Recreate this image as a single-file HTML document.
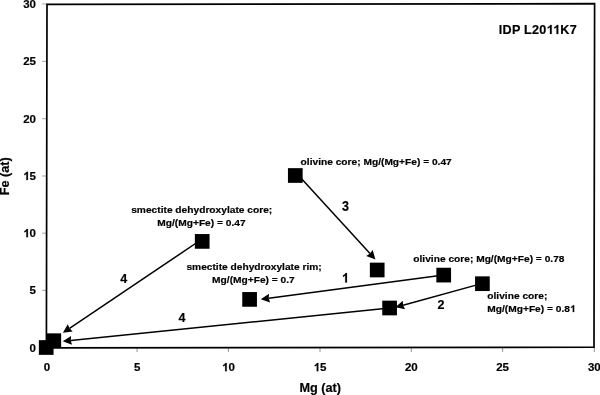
<!DOCTYPE html>
<html><head><meta charset="utf-8"><style>
html,body{margin:0;padding:0;background:#fff;width:600px;height:395px;overflow:hidden}
svg{display:block;filter:blur(0.3px)}
text{font-family:"Liberation Sans", sans-serif;font-weight:bold;fill:#000;stroke:#000;stroke-width:0.2px}
.h{fill:none;stroke:none}
.o{stroke:#000;stroke-width:0.2px;vector-effect:non-scaling-stroke}
.t{font-size:11.5px}
.ax{font-size:12.7px}
.id{font-size:12.6px;letter-spacing:0.25px}
.a{font-size:10.2px}
.n{font-size:12.5px}
</style></head><body>
<svg width="600" height="395" viewBox="0 0 600 395">
<line x1="42.1" y1="347.80" x2="46.9" y2="347.80" stroke="#999" stroke-width="0.9"/>
<line x1="46.90" y1="347.3" x2="46.90" y2="352.0" stroke="#888" stroke-width="0.9"/>
<line x1="42.1" y1="290.40" x2="46.9" y2="290.40" stroke="#999" stroke-width="0.9"/>
<line x1="137.10" y1="347.3" x2="137.10" y2="352.0" stroke="#888" stroke-width="0.9"/>
<line x1="42.1" y1="233.20" x2="46.9" y2="233.20" stroke="#999" stroke-width="0.9"/>
<line x1="228.40" y1="347.3" x2="228.40" y2="352.0" stroke="#888" stroke-width="0.9"/>
<line x1="42.1" y1="176.00" x2="46.9" y2="176.00" stroke="#999" stroke-width="0.9"/>
<line x1="320.00" y1="347.3" x2="320.00" y2="352.0" stroke="#888" stroke-width="0.9"/>
<line x1="42.1" y1="118.70" x2="46.9" y2="118.70" stroke="#999" stroke-width="0.9"/>
<line x1="411.30" y1="347.3" x2="411.30" y2="352.0" stroke="#888" stroke-width="0.9"/>
<line x1="42.1" y1="61.40" x2="46.9" y2="61.40" stroke="#999" stroke-width="0.9"/>
<line x1="502.60" y1="347.3" x2="502.60" y2="352.0" stroke="#888" stroke-width="0.9"/>
<line x1="42.1" y1="4.00" x2="46.9" y2="4.00" stroke="#999" stroke-width="0.9"/>
<line x1="594.30" y1="347.3" x2="594.30" y2="352.0" stroke="#888" stroke-width="0.9"/>
<path d="M47.0 4.3L594.6 3.7L594.0 347.2L46.4 347.9Z" fill="none" stroke="#000" stroke-width="1.7"/>
<text x="36.0" y="351.80" text-anchor="end" class="t">0</text>
<text x="46.90" y="371.2" text-anchor="middle" class="t">0</text>
<text x="36.0" y="294.40" text-anchor="end" class="t">5</text>
<text x="137.10" y="371.2" text-anchor="middle" class="t">5</text>
<text x="36.0" y="237.20" text-anchor="end" class="t"><tspan class="h">1</tspan>0</text>
<path class="o" transform="translate(23.19,237.20) scale(0.005615,-0.005615)" d="M843 0L562 0L562 1073C459 977 338 906 199 860L199 1118C272 1142 352 1188 438 1254C524 1321 583 1392 615 1466L843 1466Z"/>
<text x="228.40" y="371.2" text-anchor="middle" class="t"><tspan class="h">1</tspan>0</text>
<path class="o" transform="translate(221.99,371.20) scale(0.005615,-0.005615)" d="M843 0L562 0L562 1073C459 977 338 906 199 860L199 1118C272 1142 352 1188 438 1254C524 1321 583 1392 615 1466L843 1466Z"/>
<text x="36.0" y="180.00" text-anchor="end" class="t"><tspan class="h">1</tspan>5</text>
<path class="o" transform="translate(23.19,180.00) scale(0.005615,-0.005615)" d="M843 0L562 0L562 1073C459 977 338 906 199 860L199 1118C272 1142 352 1188 438 1254C524 1321 583 1392 615 1466L843 1466Z"/>
<text x="320.00" y="371.2" text-anchor="middle" class="t"><tspan class="h">1</tspan>5</text>
<path class="o" transform="translate(313.59,371.20) scale(0.005615,-0.005615)" d="M843 0L562 0L562 1073C459 977 338 906 199 860L199 1118C272 1142 352 1188 438 1254C524 1321 583 1392 615 1466L843 1466Z"/>
<text x="36.0" y="122.70" text-anchor="end" class="t">20</text>
<text x="411.30" y="371.2" text-anchor="middle" class="t">20</text>
<text x="36.0" y="65.40" text-anchor="end" class="t">25</text>
<text x="502.60" y="371.2" text-anchor="middle" class="t">25</text>
<text x="36.0" y="8.00" text-anchor="end" class="t">30</text>
<text x="594.30" y="371.2" text-anchor="middle" class="t">30</text>
<text x="320.2" y="392.2" text-anchor="middle" class="ax">Mg (at)</text>
<text text-anchor="middle" transform="translate(9.2,176.3) rotate(-90)" class="ax">Fe (at)</text>
<text x="498.8" y="33.9" class="id">IDP L20<tspan class="h">1</tspan><tspan class="h">1</tspan>K7</text>
<path class="o" transform="translate(546.52,33.90) scale(0.006152,-0.006152)" d="M843 0L562 0L562 1073C459 977 338 906 199 860L199 1118C272 1142 352 1188 438 1254C524 1321 583 1392 615 1466L843 1466Z"/>
<path class="o" transform="translate(553.08,33.90) scale(0.006152,-0.006152)" d="M843 0L562 0L562 1073C459 977 338 906 199 860L199 1118C272 1142 352 1188 438 1254C524 1321 583 1392 615 1466L843 1466Z"/>
<line x1="298.60" y1="175.50" x2="370.00" y2="253.50" stroke="#000" stroke-width="1.5"/>
<path d="M375.40 259.40L366.21 255.88L370.00 253.50L372.70 249.94Z"/>
<line x1="202.20" y1="239.00" x2="69.54" y2="328.33" stroke="#000" stroke-width="1.5"/>
<path d="M62.90 332.80L67.74 324.24L69.54 328.33L72.66 331.53Z"/>
<line x1="443.70" y1="275.10" x2="268.73" y2="298.25" stroke="#000" stroke-width="1.5"/>
<path d="M260.80 299.30L268.95 293.78L268.73 298.25L270.10 302.51Z"/>
<line x1="482.40" y1="283.40" x2="403.11" y2="305.18" stroke="#000" stroke-width="1.5"/>
<path d="M395.40 307.30L402.72 300.73L403.11 305.18L405.05 309.21Z"/>
<line x1="389.60" y1="308.00" x2="70.76" y2="340.49" stroke="#000" stroke-width="1.5"/>
<path d="M62.80 341.30L71.11 336.03L70.76 340.49L72.00 344.79Z"/>
<rect x="38.85" y="340.15" width="14.7" height="14.7"/>
<rect x="46.45" y="333.35" width="14.7" height="14.7"/>
<rect x="194.85" y="234.05" width="14.7" height="14.7"/>
<rect x="287.95" y="168.15" width="14.7" height="14.7"/>
<rect x="369.85" y="262.65" width="14.7" height="14.7"/>
<rect x="436.35" y="267.75" width="14.7" height="14.7"/>
<rect x="475.05" y="276.35" width="14.7" height="14.7"/>
<rect x="382.25" y="300.65" width="14.7" height="14.7"/>
<rect x="242.25" y="292.05" width="14.7" height="14.7"/>
<text transform="translate(300.6,165.3) scale(1,0.95)" class="a">olivine core; Mg/(Mg+Fe) = 0.47</text>
<text transform="translate(131.2,212.9) scale(1,0.95)" class="a">smectite dehydroxylate core;</text>
<text transform="translate(157.3,225.5) scale(1,0.95)" class="a">Mg/(Mg+Fe) = 0.47</text>
<text transform="translate(186.4,270.0) scale(1,0.95)" class="a">smectite dehydroxylate rim;</text>
<text transform="translate(212.1,283.0) scale(1,0.95)" class="a">Mg/(Mg+Fe) = 0.7</text>
<text transform="translate(413.3,261.5) scale(1,0.95)" class="a">olivine core; Mg/(Mg+Fe) = 0.78</text>
<text transform="translate(487.3,298.9) scale(1,0.95)" class="a">olivine core;</text>
<text transform="translate(487.3,312.1) scale(1,0.95)" class="a">Mg/(Mg+Fe) = 0.8<tspan class="h">1</tspan></text>
<g transform="translate(487.3,312.1) scale(1,0.95)"><path class="o" transform="translate(82.67,0.00) scale(0.004980,-0.004980)" d="M843 0L562 0L562 1073C459 977 338 906 199 860L199 1118C272 1142 352 1188 438 1254C524 1321 583 1392 615 1466L843 1466Z"/></g>
<text transform="translate(341.9,210.8) scale(1,1.1)" class="n">3</text>
<text transform="translate(341.8,282.6) scale(1,1.07)" class="n"><tspan class="h">1</tspan></text>
<g transform="translate(341.8,282.6) scale(1,1.07)"><path class="o" transform="translate(0.00,0.00) scale(0.006104,-0.006104)" d="M843 0L562 0L562 1073C459 977 338 906 199 860L199 1118C272 1142 352 1188 438 1254C524 1321 583 1392 615 1466L843 1466Z"/></g>
<text transform="translate(437.5,309.0) scale(1,1.0)" class="n">2</text>
<text transform="translate(120.2,283.3) scale(1,1.07)" class="n">4</text>
<text transform="translate(178.4,322.0) scale(1,1.07)" class="n">4</text>
</svg>
</body></html>
